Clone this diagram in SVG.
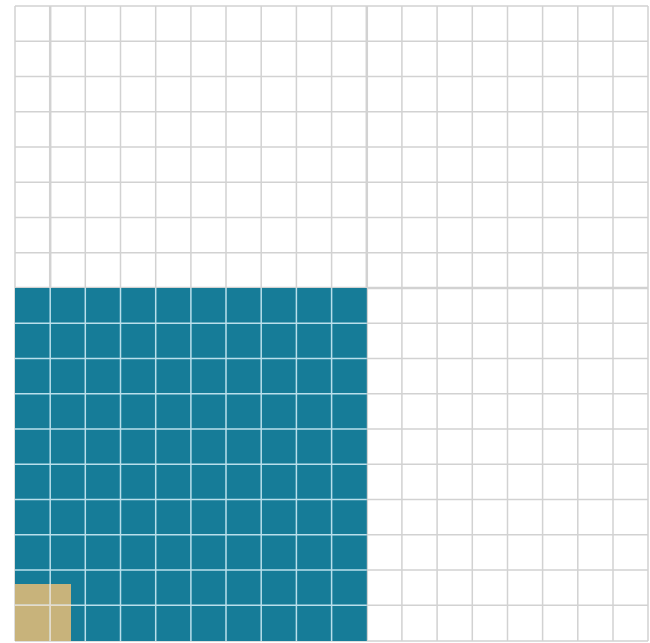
<svg xmlns="http://www.w3.org/2000/svg" width="650" height="643" viewBox="0 0 650 643">
<style>
.g{stroke:#d2d2d2;stroke-width:1.5;fill:none}
.gt{stroke:#d2d2d2;stroke-width:2.5;fill:none}
.b{stroke:#b9dfeb;stroke-width:1.5;fill:none}
.t{stroke:#e6dccb;stroke-width:1.5;fill:none}
</style>
<rect x="0" y="0" width="650" height="643" fill="#ffffff"/>
<g id="grid">
<path class="g" d="M15 6V641M85.3 6V641M120.5 6V641M155.7 6V641M190.9 6V641M226 6V641M261.2 6V641M296.4 6V641M331.6 6V641M401.9 6V641M437.1 6V641M472.3 6V641M507.5 6V641M542.6 6V641M577.8 6V641M613 6V641M648 6V641"/>
<path class="g" d="M15 6H648M15 41.3H648M15 76.5H648M15 111.8H648M15 147H648M15 182.3H648M15 217.5H648M15 252.8H648M15 323.3H648M15 358.5H648M15 393.8H648M15 429H648M15 464.3H648M15 499.5H648M15 534.8H648M15 570H648M15 605.3H648M15 641H648"/>
<path class="gt" d="M50.2 6V641M366.8 6V641M15 288H648"/>
</g>
<g id="tenths">
<rect x="15" y="288" width="351.8" height="353" fill="#167c98"/>
</g>
<g id="hundredths">
<rect x="15" y="584" width="56" height="57" fill="#c8b37b"/>
</g>
<g id="inner-lines">
<path class="b" d="M50.2 288V641M85.3 288V641M120.5 288V641M155.7 288V641M190.9 288V641M226 288V641M261.2 288V641M296.4 288V641M331.6 288V641"/>
<path class="b" d="M15 323.3H366.8M15 358.5H366.8M15 393.8H366.8M15 429H366.8M15 464.3H366.8M15 499.5H366.8M15 534.8H366.8M15 570H366.8M15 605.3H366.8"/>
<path class="t" d="M50.2 584V641M15 605.3H71"/>
</g>
</svg>
